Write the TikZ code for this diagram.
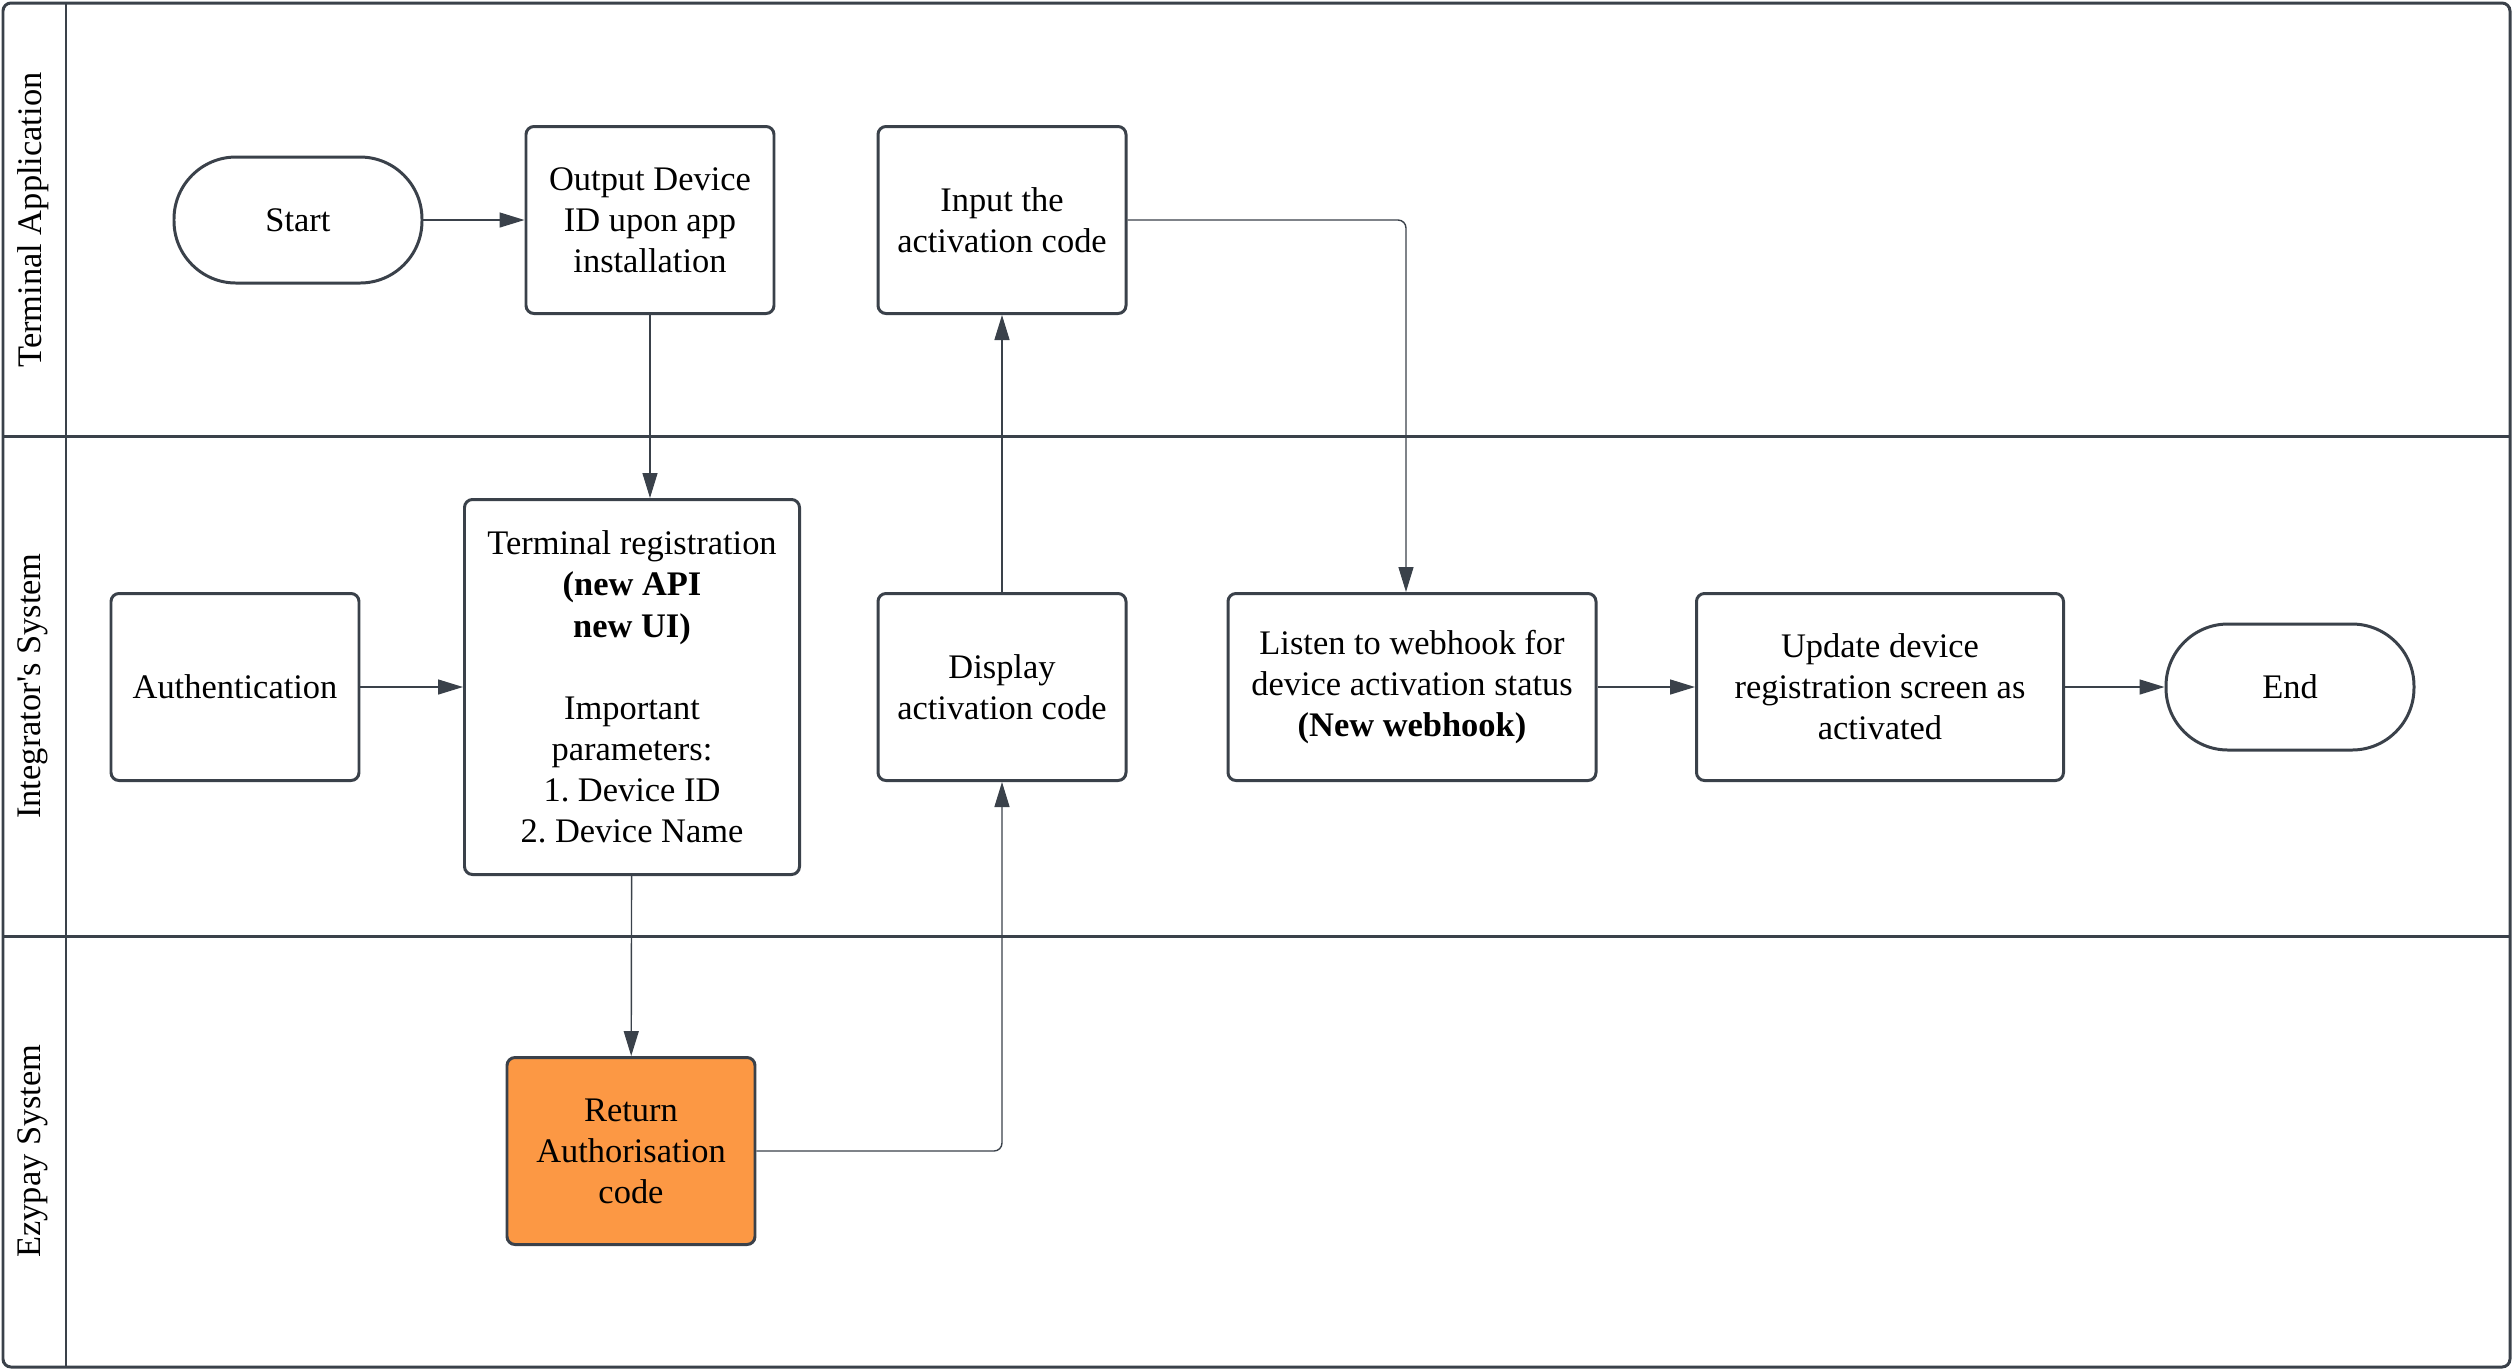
\documentclass[tikz,border=0pt]{standalone}
\usepackage{fontspec}
\setmainfont{Liberation Serif}
\frenchspacing
\usetikzlibrary{arrows.meta}
\definecolor{linegray}{RGB}{58,65,74}
\definecolor{boxorange}{RGB}{252,152,68}
\tikzset{
  stepbox/.style={draw=linegray, line width=0.85pt, rounded corners=0.08cm,
    align=center, inner sep=0pt, minimum width=2.48cm, minimum height=1.87cm,
    font=\fontsize{9.8}{11.7}\selectfont},
  terminal/.style={stepbox, rounded corners=0.62cm, minimum height=1.26cm},
  flow/.style={draw=linegray, line width=0.4pt,
    -{Triangle[length=0.25cm, width=0.15cm]}},
  lanelabel/.style={rotate=90, font=\fontsize{9.8}{11.7}\selectfont}
}

\begin{document}
\begin{tikzpicture}

  \useasboundingbox (0, 0) rectangle (25.13, -13.70);

  % lanes
  \draw[linegray, line width=0.85pt, rounded corners=0.08cm] (0.03, -0.03) rectangle (25.10, -13.67);
  \draw[linegray, line width=0.85pt] (0.66, -0.03) -- (0.66, -13.67);
  \draw[linegray, line width=0.85pt] (0.03, -4.36) -- (25.10, -4.36);
  \draw[linegray, line width=0.85pt] (0.03, -9.36) -- (25.10, -9.36);

  \node[lanelabel] (laneterm) at (0.33, -2.20) {Terminal Application};
  \node[lanelabel] (laneint) at (0.33, -6.86) {Integrator\textquotesingle s System};
  \node[lanelabel] (laneezy) at (0.33, -11.51) {Ezypay System};

  % terminal application
  \node[terminal] (start) at (2.98, -2.20) {Start};
  \node[stepbox] (output) at (6.50, -2.20) {Output Device\\ID upon app\\installation};
  \node[stepbox] (input) at (10.02, -2.20) {Input the\\activation code};

  % integrator's system
  \node[stepbox] (auth) at (2.35, -6.87) {Authentication};
  \node[stepbox, minimum width=3.35cm, minimum height=3.75cm] (reg) at (6.32, -6.87)
    {Terminal registration\\\textbf{(new API}\\\textbf{new UI)}\\~\\Important\\parameters:\\1. Device ID\\2. Device Name};
  \node[stepbox] (display) at (10.02, -6.87) {Display\\activation code};
  \node[stepbox, minimum width=3.68cm] (listen) at (14.12, -6.87)
    {Listen to webhook for\\device activation status\\\textbf{(New webhook)}};
  \node[stepbox, minimum width=3.67cm] (update) at (18.80, -6.87)
    {Update device\\registration screen as\\activated};
  \node[terminal] (end) at (22.90, -6.87) {End};

  % ezypay system
  \node[stepbox, fill=boxorange] (return) at (6.31, -11.51) {Return\\Authorisation\\code};

  % connectors
  \coordinate (listenin) at ([xshift=-0.06cm]listen.north);
  \draw[flow] (start) -- (output);
  \draw[flow] (output.south) -- (output.south |- reg.north);
  \draw[flow] (auth) -- (reg);
  \draw[flow] (reg) -- (return);
  \draw[flow, rounded corners=0.08cm] (return.east) -| (display.south);
  \draw[flow] (display) -- (input);
  \draw[flow, rounded corners=0.08cm] (input.east) -| (listenin);
  \draw[flow] (listen) -- (update);
  \draw[flow] (update) -- (end);

\end{tikzpicture}
\end{document}
